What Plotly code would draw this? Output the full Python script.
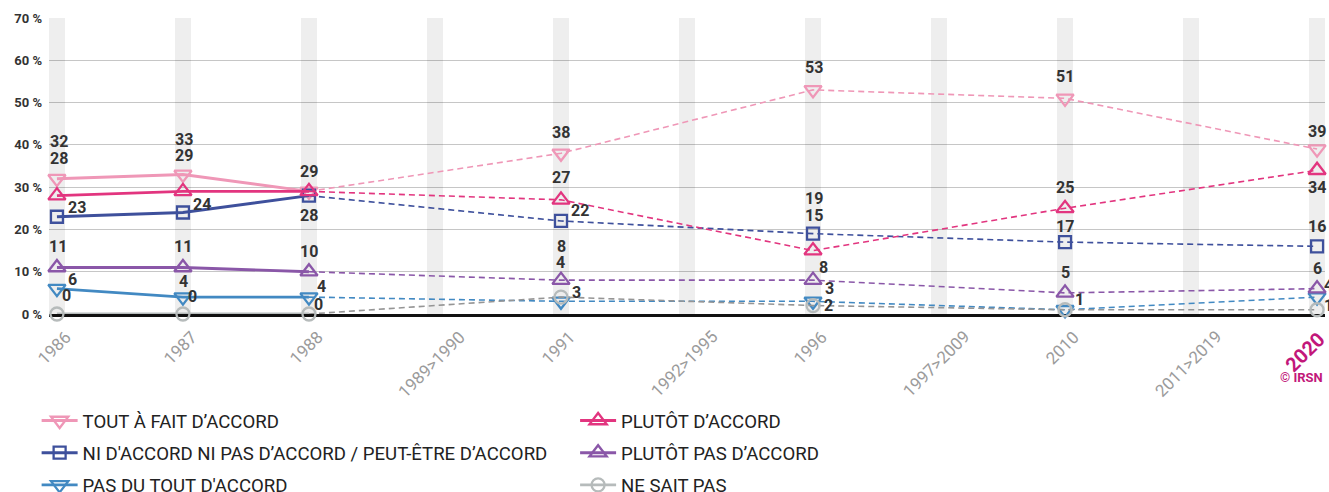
import plotly.graph_objects as go

# x categories (periods without survey are kept as empty slots)
categories = ['1986', '1987', '1988', '1989>1990', '1991', '1992>1995',
              '1996', '1997>2009', '2010', '2011>2019', '2020']
surveys = ['1986', '1987', '1988', '1991', '1996', '2010', '2020']

# answer shares, in %
tout_a_fait = [32, 33, 29, 38, 53, 51, 39]
plutot = [28, 29, 29, 27, 15, 25, 34]
ni_ni = [23, 24, 28, 22, 19, 17, 16]
plutot_pas = [11, 11, 10, 8, 8, 5, 6]
pas_du_tout = [6, 4, 4, 3, 3, 1, 4]
ne_sait_pas = [0, 0, 0, 4, 2, 1, 1]

# labels not printed because they sit on top of another one
labels_hidden = {
    'plutot': [2],
    'nsp': [5],
}

series = [
    # key, name, values, colour, dashed colour, symbol, size, legend
    ('tout', "TOUT À FAIT D’ACCORD", tout_a_fait, '#ef97b7', '#ef97b7', 'triangle-down-open', 15, 'legend'),
    ('ni', "NI D'ACCORD NI PAS D’ACCORD / PEUT-ÊTRE D’ACCORD", ni_ni, '#3e509c', '#3e509c', 'square-open', 12, 'legend'),
    ('pdt', "PAS DU TOUT D'ACCORD", pas_du_tout, '#4289c2', '#4289c2', 'triangle-down-open', 15, 'legend'),
    ('plutot', "PLUTÔT D’ACCORD", plutot, '#e2357f', '#e2357f', 'triangle-up-open', 15, 'legend2'),
    ('pp', "PLUTÔT PAS D’ACCORD", plutot_pas, '#8a57a8', '#8a57a8', 'triangle-up-open', 15, 'legend2'),
    ('nsp', "NE SAIT PAS", ne_sait_pas, '#b6bbbb', '#959595', 'circle-open', 13, 'legend2'),
]

# label offsets in pixels (dx right, dy down) for each survey point
label_offsets = {
    'tout':   [(2, -37), (1, -35), (0, -20), (0, -21), (1, -22), (0, -22), (0, -18)],
    'plutot': [(2, -37), (1, -36), (0, -20), (0, -22), (1, -35), (0, -21), (0, 17)],
    'ni':     [(20, -9), (19, -8), (0, 20), (19, -10), (1, -35), (0, -16), (0, -20)],
    'pp':     [(1, -21), (0, -21), (0, -20), (1, -34), (10, -13), (0, -20), (0, -20)],
    'pdt':    [(16, -9), (1, -16), (13, -11), (16, -9), (16, -13), (14, -10), (11, -12)],
    'nsp':    [(10, -19), (10, -18), (10, -10), (0, -35), (15, 0), (14, -10), (11, -4)],
}

# annotations need the category index ('1986' would be read as a number)
pos = {c: i for i, c in enumerate(categories)}

fig = go.Figure()

# light grey vertical bands behind each period
fig.add_trace(go.Bar(
    x=categories, y=[70] * len(categories), width=0.127,
    marker=dict(color='rgba(0,0,0,0.067)', line=dict(width=0)),
    hoverinfo='skip', showlegend=False,
))

n_solid = 3  # 1986-1988 are annual points, drawn solid
for key, name, vals, color, dcolor, symbol, size, leg in series:
    # dashed link between the later, sparse surveys
    fig.add_trace(go.Scatter(
        x=surveys[n_solid - 1:], y=vals[n_solid - 1:], mode='lines',
        line=dict(color=dcolor, width=1.6, dash='6px,4px'),
        legendgroup=key, showlegend=False, hoverinfo='skip', cliponaxis=False,
    ))
    fig.add_trace(go.Scatter(
        x=surveys[n_solid:], y=vals[n_solid:], mode='markers',
        marker=dict(symbol=symbol, size=size, color=color, line=dict(width=2.3)),
        legendgroup=key, showlegend=False, cliponaxis=False,
        name=name,
    ))
    fig.add_trace(go.Scatter(
        x=surveys[:n_solid], y=vals[:n_solid], mode='lines+markers',
        line=dict(color=color, width=2.9),
        marker=dict(symbol=symbol, size=size, color=color, line=dict(width=2.3)),
        legendgroup=key, legend=leg, name=name, cliponaxis=False,
    ))
    hidden = labels_hidden.get(key, [])
    for i, (x, v) in enumerate(zip(surveys, vals)):
        if i in hidden:
            continue
        dx, dy = label_offsets[key][i]
        fig.add_annotation(
            x=pos[x], y=v, text=str(v), showarrow=False,
            xanchor='center', yanchor='middle', xshift=dx, yshift=-dy,
            font=dict(family='Roboto', size=16, color='#333333', weight='bold'),
        )

# rotated period labels under the axis
for c in categories:
    last = c == categories[-1]
    fig.add_annotation(
        x=pos[c], y=-0.035, xref='x', yref='paper', text=c, showarrow=False,
        textangle=-45, xanchor='center', yanchor='top',
        xshift=-12 if last else -3,
        font=dict(family='Roboto', size=20 if last else 17,
                  color='#c2177a' if last else '#9b9b9b',
                  weight='bold' if last else 'normal'),
    )

fig.add_annotation(
    x=1.0, y=-0.215, xref='paper', yref='paper', text='© IRSN', showarrow=False,
    xanchor='right', yanchor='middle',
    font=dict(family='Roboto', size=13, color='#c2177a', weight='bold'),
)

legend_style = dict(
    orientation='v', yanchor='top', xanchor='left',
    font=dict(family='Roboto', size=18.6, color='#222222'),
    bgcolor='rgba(0,0,0,0)', tracegroupgap=5, itemwidth=36,
    traceorder='grouped',
)

fig.update_layout(
    width=1329, height=492, autosize=False,
    margin=dict(l=49, r=4, t=18, b=178, autoexpand=False),
    plot_bgcolor='white', paper_bgcolor='white',
    font=dict(family='Roboto', color='#333333'),
    showlegend=True,
    legend=dict(x=-0.0097, y=-0.297, **legend_style),
    legend2=dict(x=0.4123, y=-0.297, **legend_style),
    bargap=0,
)

fig.update_xaxes(
    type='category', categoryorder='array', categoryarray=categories,
    range=[-0.063, len(categories) - 1 + 0.063],
    showticklabels=False, ticks='', showgrid=False,
    showline=True, linecolor='#111111', linewidth=2.6,
    layer='below traces', zeroline=False,
)
fig.update_yaxes(
    range=[0, 70], dtick=10, ticksuffix=' %',
    showgrid=True, gridcolor='#c6c6c6', gridwidth=1,
    zeroline=False, showline=False, ticks='', ticklabelstandoff=6,
    tickfont=dict(family='Roboto', size=13, color='#333333', weight='bold'),
    layer='below traces',
)

fig.write_html("out.html", config={'displayModeBar': False},
               post_script="document.body.style.margin='0';")
